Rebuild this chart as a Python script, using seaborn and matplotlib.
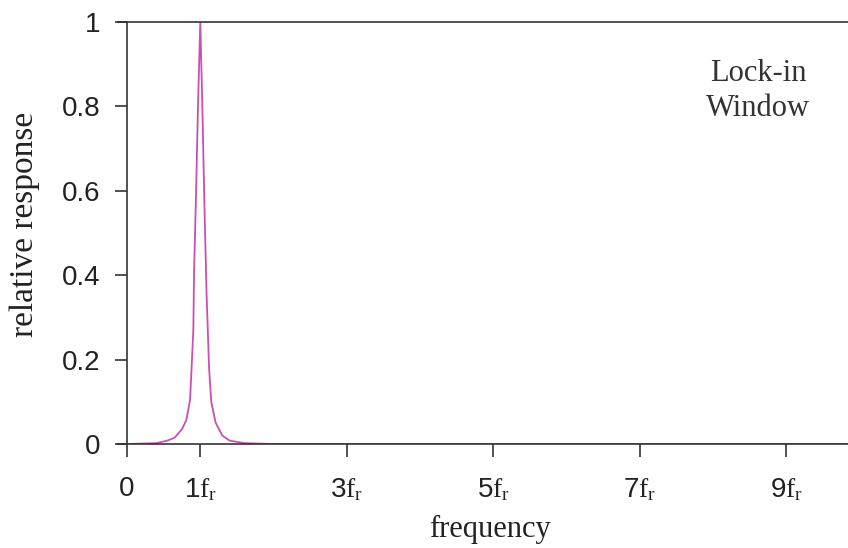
import matplotlib
matplotlib.use("Agg")
import matplotlib.pyplot as plt
import seaborn as sns
import pandas as pd

# data
freq = [0.0, 0.4, 0.55, 0.65, 0.75, 0.81, 0.86, 0.88, 0.905, 0.915, 0.94, 0.97, 1.0,
        1.027, 1.055, 1.085, 1.12, 1.15, 1.21, 1.3, 1.4, 1.6, 2.0, 9.85]
resp = [0.0, 0.002, 0.008, 0.015, 0.035, 0.057, 0.104, 0.175, 0.27, 0.405, 0.578, 0.81, 1.0,
        0.81, 0.578, 0.36, 0.18, 0.10, 0.05, 0.02, 0.008, 0.002, 0.0, 0.0]
xticks = [0, 1, 3, 5, 7, 9]
xticklabels = ["0", r"1$\mathrm{f_r}$", r"3$\mathrm{f_r}$", r"5$\mathrm{f_r}$",
               r"7$\mathrm{f_r}$", r"9$\mathrm{f_r}$"]
yticks = [0, 0.2, 0.4, 0.6, 0.8, 1.0]
yticklabels = ["0", "0.2", "0.4", "0.6", "0.8", "1"]

sns.set_theme(style="white")
plt.rcParams["font.family"] = ["Liberation Sans", "DejaVu Sans"]
plt.rcParams["mathtext.fontset"] = "custom"
plt.rcParams["mathtext.rm"] = "Liberation Serif"
plt.rcParams["mathtext.it"] = "Liberation Serif:italic"

df = pd.DataFrame({"frequency": freq, "response": resp})

W, H = 848, 548
L, T, B = 118, 22, 444
fig = plt.figure(figsize=(W / 100, H / 100), dpi=100)
ax = fig.add_axes([L / W, 1 - B / H, 1 - L / W, (B - T) / H])
sns.lineplot(data=df, x="frequency", y="response", ax=ax, color="#c94fb5", linewidth=1.3)

ax.set_xlim(-0.123, 9.84)
ax.set_ylim(0, 1)
ax.spines["left"].set_position(("data", 0))
ax.spines["right"].set_visible(False)
for s in ["left", "bottom", "top"]:
    ax.spines[s].set_color("#333333")
    ax.spines[s].set_linewidth(1.2)

ax.set_xticks(xticks)
ax.set_xticklabels(xticklabels)
ax.set_yticks(yticks)
ax.set_yticklabels(yticklabels)
ax.tick_params(axis="both", which="major", direction="out", length=9, width=1.2,
               color="#333333", labelsize=20, labelcolor="#222222",
               left=True, bottom=True)
ax.tick_params(axis="y", pad=10)
ax.tick_params(axis="x", pad=14)

ax.set_xlabel("frequency", family="Liberation Serif", fontsize=22, color="#222222")
ax.set_ylabel("relative response", family="Liberation Serif", fontsize=24, color="#222222")
ax.xaxis.set_label_coords((490 - L) / (W - L), -(515 - B) / (B - T))
ax.yaxis.set_label_coords((40 - L) / (W - L), 0.52)

ax.text((758 - L) / (W - L), 1 - (91 - T) / (B - T), "Lock-in\nWindow",
        transform=ax.transAxes, ha="center", va="center",
        family="Liberation Serif", fontsize=22, color="#333333", linespacing=1.3)

fig.savefig("out.png", dpi=100)
